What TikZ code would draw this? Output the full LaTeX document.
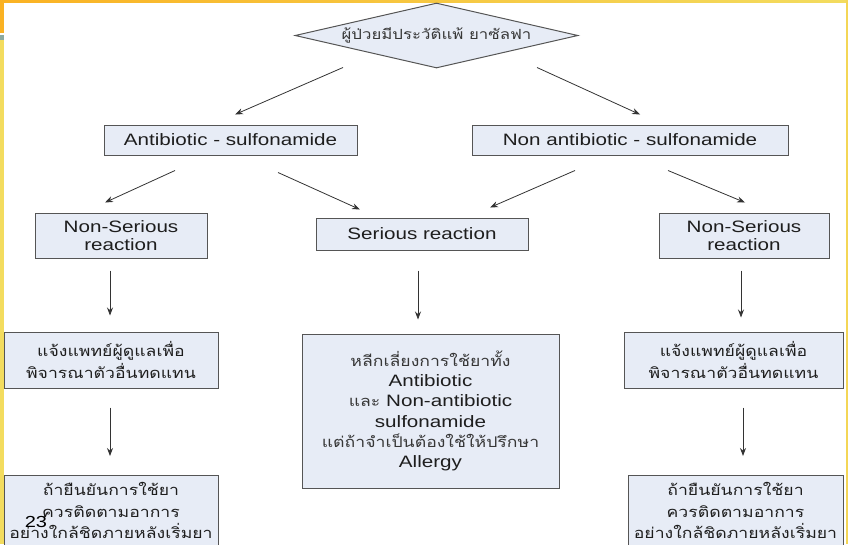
\documentclass[tikz,border=0pt]{standalone}
\usepackage{fontspec}
\setmainfont{Liberation Sans}[FakeStretch=1.25]
\newfontfamily\thai[Script=Thai,FakeStretch=1.2]{Loma}
\usetikzlibrary{shapes.geometric,arrows.meta}
\definecolor{boxfill}{RGB}{231,236,246}
\definecolor{boxline}{RGB}{85,85,85}
\definecolor{txt}{RGB}{30,30,30}
\definecolor{thtxt}{RGB}{55,55,55}
\definecolor{orbar}{RGB}{250,178,35}
\definecolor{yelbar}{RGB}{243,220,95}
\definecolor{tealbar}{RGB}{140,170,160}
\newcommand\thaid{\thai\fontsize{14}{22}\selectfont}
\newcommand\thaitx{\thai\fontsize{14.7}{22}\selectfont\color{thtxt}}
\newcommand\lat{\fontsize{16.5}{20}\selectfont}
\tikzset{
  box/.style={draw=boxline, fill=boxfill, line width=1pt, text=txt, align=center, inner sep=0pt},
  arr/.style={draw=black!80, line width=0.8pt, -{Stealth[length=8pt,width=6pt]}},
}
\begin{document}
\begin{tikzpicture}[x=1pt,y=-1pt]
\useasboundingbox (0,0) rectangle (848,544);
\clip (0,0) rectangle (848,544);
% frame bars
\shade[left color=orbar, right color=yelbar] (0,0) rectangle (848,2.5);
\fill[orbar] (0,0) rectangle (3.5,33);
\fill[tealbar] (0,35) rectangle (3.5,40);
\fill[yelbar] (0,40) rectangle (3.5,544);
\fill[yelbar!85!orbar] (846,0) rectangle (848,544);
% nodes
\node[box, shape=diamond, shape aspect=4.3, minimum width=283pt, minimum height=65pt, font=\thaid] (d) at (436.5,35.5) {\color{thtxt}ผู้ป่วยมีประวัติแพ้ ยาซัลฟา};
\node[box, minimum width=253pt, minimum height=30pt, font=\lat] (ab) at (230.5,140) {Antibiotic - sulfonamide};
\node[box, minimum width=316pt, minimum height=30pt, font=\lat] (nab) at (630,140) {Non antibiotic - sulfonamide};
\node[box, minimum width=172pt, minimum height=45pt, font=\fontsize{16.5}{17.5}\selectfont] (ns1) at (121,235.5) {Non-Serious\\reaction};
\node[box, minimum width=212pt, minimum height=32pt, font=\lat] (sr) at (422,234) {Serious reaction};
\node[box, minimum width=170pt, minimum height=45pt, font=\fontsize{16.5}{17.5}\selectfont] (ns2) at (744,235.5) {Non-Serious\\reaction};
\node[box, minimum width=214pt, minimum height=56pt, font=\thaitx] (t1) at (111,360) {แจ้งแพทย์ผู้ดูแลเพื่อ\\พิจารณาตัวอื่นทดแทน};
\node[box, minimum width=219pt, minimum height=56pt, font=\thaitx] (t2) at (733.5,360) {แจ้งแพทย์ผู้ดูแลเพื่อ\\พิจารณาตัวอื่นทดแทน};
\node[box, minimum width=257pt, minimum height=154pt, font=\fontsize{16.5}{20.2}\selectfont] (mid) at (430.5,411) {{\thaitx หลีกเลี่ยงการใช้ยาทั้ง}\\Antibiotic\\{\thaitx และ} Non-antibiotic\\sulfonamide\\{\thaitx แต่ถ้าจำเป็นต้องใช้ให้ปรึกษา}\\Allergy};
\node[box, minimum width=214pt, anchor=north, inner ysep=7pt, font=\fontsize{14.7}{21.5}\selectfont\thai\color{thtxt}] (b1) at (111,475) {ถ้ายืนยันการใช้ยา\\ควรติดตามอาการ\\อย่างใกล้ชิดภายหลังเริ่มยา};
\node[box, minimum width=215pt, anchor=north, inner ysep=7pt, font=\fontsize{14.7}{21.5}\selectfont\thai\color{thtxt}] (b2) at (735.5,475) {ถ้ายืนยันการใช้ยา\\ควรติดตามอาการ\\อย่างใกล้ชิดภายหลังเริ่มยา};
\node[font=\fontsize{16}{18}\selectfont, text=black, inner sep=0pt] (pg) at (36,522) {23};
% connectors
\draw[arr] ([shift={(-93.5,-1)}]d.south) -- ([shift={(4.5,-10)}]ab.north);
\draw[arr] ([shift={(100.5,-1)}]d.south) -- ([shift={(10,-10)}]nab.north);
\draw[arr] ([shift={(-55.5,15)}]ab.south) -- ([shift={(-16,-10)}]ns1.north);
\draw[arr] ([shift={(47.5,17)}]ab.south) -- ([shift={(-62,-8)}]sr.north);
\draw[arr] ([shift={(-55,15)}]nab.south) -- ([shift={(68,-10)}]sr.north);
\draw[arr] ([shift={(38,15)}]nab.south) -- ([shift={(1,-10)}]ns2.north);
\draw[arr] ([shift={(-11,12)}]ns1.south) -- ([shift={(-1,-16)}]t1.north);
\draw[arr] ([shift={(-4,20)}]sr.south) -- ([shift={(-12.5,-14)}]mid.north);
\draw[arr] ([shift={(-3,12)}]ns2.south) -- ([shift={(7.5,-14)}]t2.north);
\draw[arr] ([shift={(-1,19)}]t1.south) -- ([shift={(-1,-19)}]b1.north);
\draw[arr] ([shift={(9.5,19)}]t2.south) -- ([shift={(7.5,-19)}]b2.north);
\end{tikzpicture}
\end{document}
